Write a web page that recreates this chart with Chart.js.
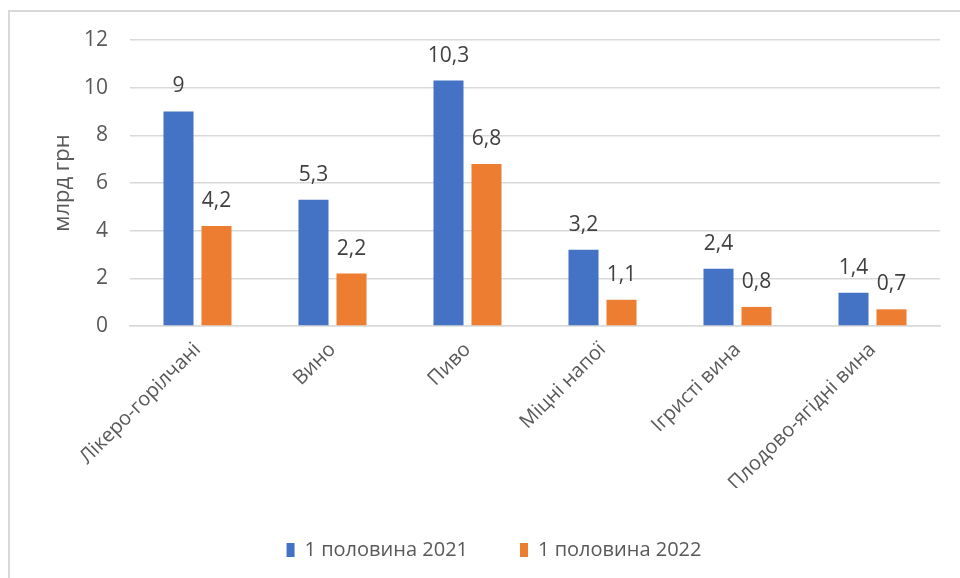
<!DOCTYPE html>
<html>
<head>
<meta charset="utf-8">
<script src="https://cdn.jsdelivr.net/npm/chart.js@4"></script>
<style>
    html, body { margin: 0; padding: 0; background: #fff; overflow: hidden; }
    body { width: 960px; height: 578px; position: relative; }
    #frame { position: absolute; left: 8px; top: 10px; width: 1100px; height: 700px; border: 2px solid #d9d9d9; }
    #wrap { position: absolute; left: 0; top: 0; width: 1000px; height: 578px; }
</style>
</head>
<body>
<div id="frame"></div>
<div id="wrap"><canvas id="barChart"></canvas></div>
<script>
// --- Data ---
const categories = ['Лікеро-горілчані', 'Вино', 'Пиво', 'Міцні напої', 'Ігристі вина', 'Плодово-ягідні вина'];
const values2021 = [9, 5.3, 10.3, 3.2, 2.4, 1.4];
const values2022 = [4.2, 2.2, 6.8, 1.1, 0.8, 0.7];
const seriesNames = ['1 половина 2021', '1 половина 2022'];
const yTicks = [0, 2, 4, 6, 8, 10, 12];

const colors = {
    blue: '#4472C4',
    orange: '#ED7D31',
    grid: '#d9d9d9',
    text: '#595959',
    label: '#404040'
};

const fontFamily = "'Open Sans', sans-serif";

// Data labels above the bars (comma decimals)
const barValueLabels = {
    id: 'barValueLabels',
    afterDatasetsDraw(chart) {
        const ctx = chart.ctx;
        ctx.save();
        ctx.font = `21px ${fontFamily}`;
        ctx.fillStyle = colors.label;
        ctx.textAlign = 'center';
        ctx.textBaseline = 'middle';
        chart.data.datasets.forEach((ds, i) => {
            chart.getDatasetMeta(i).data.forEach((bar, j) => {
                const txt = String(ds.data[j]).replace('.', ',');
                ctx.fillText(txt, bar.x, bar.y - 25);
            });
        });
        ctx.restore();
    }
};

new Chart(document.getElementById('barChart').getContext('2d'), {
    type: 'bar',
    data: {
        labels: categories,
        datasets: [
            { label: seriesNames[0], data: values2021, backgroundColor: colors.blue },
            { label: seriesNames[1], data: values2022, backgroundColor: colors.orange }
        ]
    },
    options: {
        responsive: true,
        maintainAspectRatio: false,
        animation: false,
        categoryPercentage: 0.563,
        barPercentage: 0.79,
        layout: { padding: { left: 48, right: 60, top: 40, bottom: 8 } },
        scales: {
            x: {
                grid: { display: false },
                border: { color: colors.grid, width: 1.5 },
                ticks: {
                    color: colors.text,
                    font: { family: fontFamily, size: 20 },
                    minRotation: 45,
                    maxRotation: 45,
                    padding: 4
                },
                afterFit(scale) { scale.height = 162; }
            },
            y: {
                min: 0,
                max: 12,
                afterBuildTicks(scale) { scale.ticks = yTicks.map(v => ({ value: v })); },
                grid: { color: colors.grid, lineWidth: 1.5, drawTicks: false },
                border: { display: false },
                ticks: {
                    color: colors.text,
                    font: { family: fontFamily, size: 21 },
                    padding: 22
                },
                title: {
                    display: true,
                    text: 'млрд грн',
                    color: colors.text,
                    font: { family: fontFamily, size: 22 },
                    padding: 2
                },
                afterFit(scale) { scale.width = 82; }
            }
        },
        plugins: {
            legend: {
                position: 'bottom',
                labels: {
                    boxWidth: 8,
                    boxHeight: 14,
                    padding: 52,
                    color: colors.text,
                    font: { family: fontFamily, size: 20 }
                }
            },
            tooltip: { enabled: false }
        }
    },
    plugins: [barValueLabels]
});
</script>
</body>
</html>
